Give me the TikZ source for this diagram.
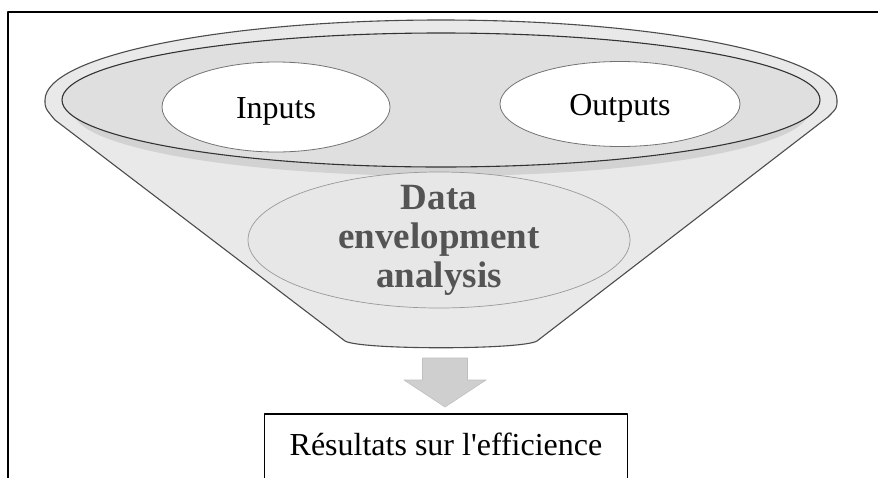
\documentclass[tikz,border=0pt]{standalone}
\usepackage{fontspec}
\setmainfont{Liberation Serif}
\usetikzlibrary{shapes.geometric}
\definecolor{rimgray}{HTML}{E9E9E9}
\definecolor{cupgray}{HTML}{DFDFDF}
\definecolor{shadegray}{HTML}{D2D2D2}
\definecolor{deagray}{HTML}{E7E7E7}
\definecolor{arrowgray}{HTML}{CFCFCF}
\begin{document}
\begin{tikzpicture}[x=1pt,y=-1pt,line join=round,
	io/.style={ellipse,draw=black!55,line width=0.8pt,fill=white,inner sep=0pt,text height=26pt,text depth=4pt,
		font=\fontsize{32}{36}\selectfont},
	dea/.style={ellipse,draw=black!40,line width=0.7pt,fill=deagray,inner sep=-12pt,minimum width=382pt,minimum height=136pt,
		align=center,text=black!67,font=\fontsize{37}{39}\selectfont\bfseries},
	resbox/.style={draw,line width=1.6pt,anchor=north,minimum width=363pt,inner xsep=0pt,inner ysep=0pt,
		text height=42pt,text depth=45pt,font=\fontsize{32}{36}\selectfont}]
	\useasboundingbox (0,0) rectangle (878,477);
	\clip (0,0) rectangle (878,477);
	\fill[white] (0,0) rectangle (878,477);
	\draw[line width=2.8pt] (8,12) rectangle (1000,700);
	% funnel
	\draw[fill=rimgray,draw=black!70,line width=1.1pt] (45,100) arc[start angle=180,end angle=360,x radius=396,y radius=80]
		.. controls (837,108) .. (828,117) -- (537,341) .. controls (522,350) and (360,350) .. (345,341)
		-- (55,120) .. controls (45,108) .. cycle;
	\fill[shadegray] (441,111) ellipse[x radius=368,y radius=65];
	\draw[fill=cupgray,draw=black!80,line width=1.1pt] (441,100) ellipse[x radius=379,y radius=67];
	\node[dea] (analysis) at (439,240) {Data\\envelopment\\analysis};
	\node[io,minimum width=228pt,minimum height=90pt] (inputs) at (276,107) {Inputs};
	\node[io,minimum width=240pt,minimum height=85pt] (outputs) at (620,104) {Outputs};
	% result
	\node[resbox] (result) at (446,413) {Résultats sur l\textquotesingle efficience};
	\coordinate (tip) at (445,407);
	\draw[fill=arrowgray,draw=black!25,line width=0.6pt] (tip) -- ++(-41,-27) -- ++(18.5,0) -- ++(0,-22) -- ++(45,0)
		-- ++(0,22) -- ++(18.5,0) -- cycle;
\end{tikzpicture}
\end{document}
